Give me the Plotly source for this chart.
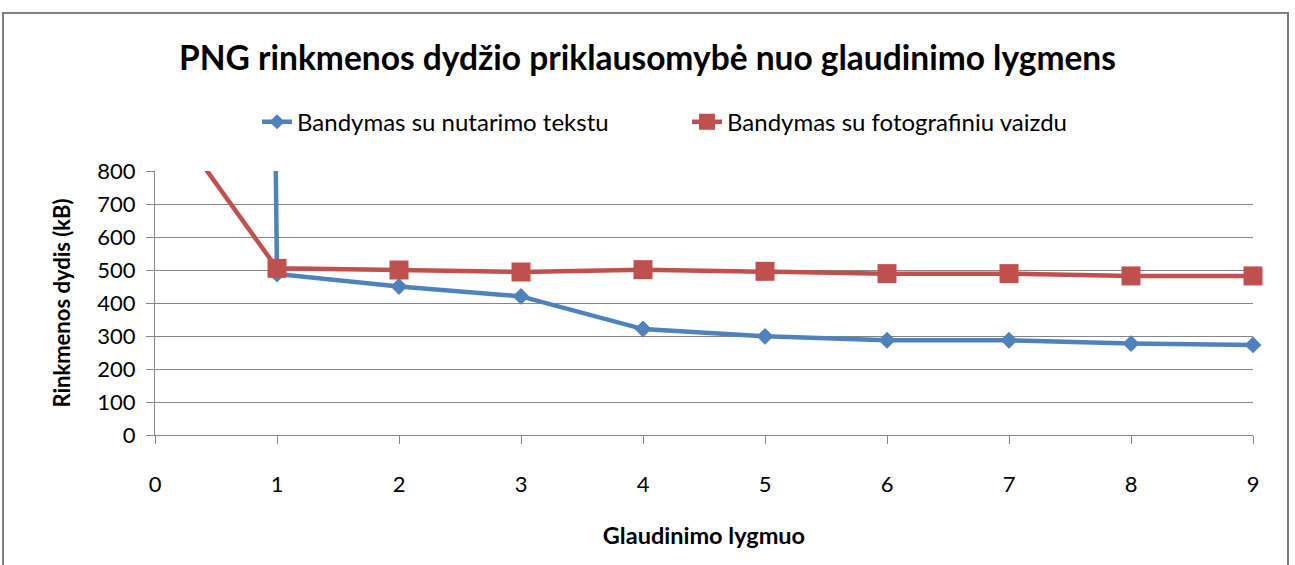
import plotly.graph_objects as go

levels = [0, 1, 2, 3, 4, 5, 6, 7, 8, 9]
text_sizes = [32000, 488, 450, 420, 321, 299, 287, 287, 277, 273]
photo_sizes = [1020, 505, 500, 494, 501, 496, 489, 489, 482, 482]
series_names = ["Bandymas su nutarimo tekstu", "Bandymas su fotografiniu vaizdu"]
y_ticks = [0, 100, 200, 300, 400, 500, 600, 700, 800]

BLUE = "#4F81BD"
RED = "#C0504D"
GRID = "#868686"
FONT = "Lato"

n = len(levels)

fig = go.Figure()
fig.add_trace(go.Scatter(
    x=levels, y=text_sizes, name=series_names[0], mode="lines+markers",
    line=dict(color=BLUE, width=4.5),
    marker=dict(symbol="diamond", size=[0] + [13] * (n - 1), color=BLUE, opacity=1,
                line=dict(width=0)),
    cliponaxis=False,
))
fig.add_trace(go.Scatter(
    x=levels, y=photo_sizes, name=series_names[1], mode="lines+markers",
    line=dict(color=RED, width=4.5),
    marker=dict(symbol="square", size=[0] + [19] * (n - 1), color=RED, opacity=1,
                line=dict(width=0)),
    cliponaxis=False,
))

fig.update_layout(
    width=1295, height=565,
    margin=dict(l=155, r=42, t=171, b=130),
    paper_bgcolor="white", plot_bgcolor="white",
    font=dict(family=FONT, color="black", size=21),
    title=dict(text="<b>PNG rinkmenos dydžio priklausomybė nuo glaudinimo lygmens</b>",
               x=0.5, xanchor="center", xref="container", y=0.897, yanchor="middle",
               yref="container", font=dict(size=33.5, family=FONT)),
    showlegend=True,
    legend=dict(orientation="h", x=(257 - 155) / 1098, xanchor="left", y=1.185,
                yanchor="middle", font=dict(size=24, family=FONT), entrywidth=385,
                entrywidthmode="pixels", itemwidth=30, bgcolor="rgba(0,0,0,0)"),
    xaxis=dict(range=[0, 9], tickmode="array", tickvals=levels, ticks="outside", ticklen=8,
               tickcolor=GRID, showline=True, linecolor=GRID, linewidth=1, showgrid=False,
               zeroline=False, tickfont=dict(size=22), ticklabelstandoff=22,
               title=dict(text="<b>Glaudinimo lygmuo</b>", font=dict(size=23.5), standoff=31)),
    yaxis=dict(range=[0, 800], tickmode="array", tickvals=y_ticks, ticks="outside", ticklen=8,
               tickcolor=GRID, showline=True, linecolor=GRID, linewidth=1, showgrid=True,
               gridcolor=GRID, gridwidth=1, zeroline=False, tickfont=dict(size=22),
               ticklabelstandoff=6,
               title=dict(text="<b>Rinkmenos dydis (kB)</b>", font=dict(size=22), standoff=20)),
    shapes=[dict(type="rect", xref="paper", yref="paper", x0=(3 - 155) / 1098,
                 x1=(1288 - 155) / 1098, y0=-0.52, y1=(435 - 13) / 264,
                 line=dict(color="#7F7F7F", width=2), layer="below")],
)

fig.write_html("out.html", config={"displayModeBar": False},
               post_script="document.body.style.margin='0px';")
